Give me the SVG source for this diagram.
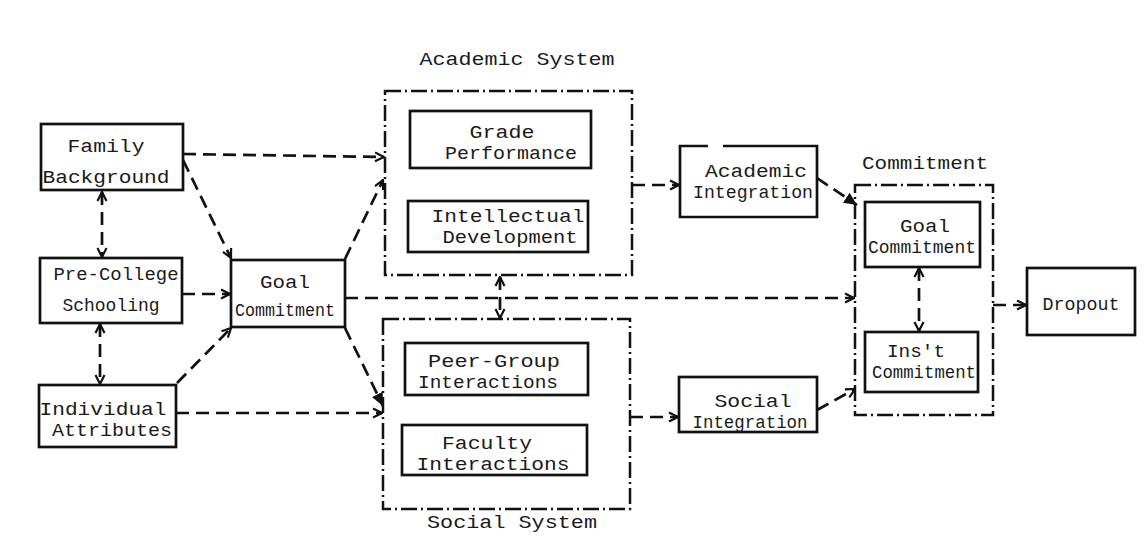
<svg xmlns="http://www.w3.org/2000/svg" width="1145" height="545" viewBox="0 0 1145 545">
<style>
text{font-family:"Liberation Mono","DejaVu Sans Mono",monospace;font-size:18px;fill:#1a1a1a;text-anchor:middle}
.box{fill:none;stroke:#111;stroke-width:2.7}
.sys{fill:none;stroke:#111;stroke-width:2.5;stroke-dasharray:16 4 2 4}
.c{fill:none;stroke:#111;stroke-width:2.7;stroke-dasharray:13 7}
.o{marker-end:url(#open)}
.f{marker-end:url(#fill)}
.d{marker-start:url(#open);marker-end:url(#open)}
</style>
<defs>
<marker id="open" viewBox="0 0 12 12" refX="11" refY="6" markerWidth="12" markerHeight="12" markerUnits="userSpaceOnUse" orient="auto-start-reverse">
<path d="M2,1.5 L11,6 L2,10.5" fill="none" stroke="#111" stroke-width="2.2"/>
</marker>
<marker id="fill" viewBox="0 0 14 14" refX="13" refY="7" markerWidth="14" markerHeight="14" markerUnits="userSpaceOnUse" orient="auto">
<path d="M0,1 L13,7 L0,13 Z" fill="#111"/>
</marker>
</defs>
<rect width="1145" height="545" fill="#fff"/>

<g id="connectors">
<line class="c o" x1="183" y1="154" x2="384" y2="157"/>
<line class="c o" x1="183" y1="160" x2="231" y2="258"/>
<line class="c o" x1="345" y1="259" x2="383" y2="180"/>
<line class="c o" x1="182" y1="294" x2="230" y2="294"/>
<line class="c d" x1="102" y1="192" x2="102" y2="257"/>
<line class="c d" x1="100" y1="324" x2="100" y2="384"/>
<line class="c o" x1="177" y1="383" x2="231" y2="328"/>
<line class="c o" x1="176" y1="413" x2="382" y2="413"/>
<line class="c f" x1="345" y1="328" x2="383" y2="406"/>
<line class="c o" x1="345" y1="298" x2="854" y2="298"/>
<line class="c d" x1="500" y1="277" x2="500" y2="318"/>
<line class="c o" x1="632" y1="185" x2="679" y2="185"/>
<line class="c o" x1="630" y1="417" x2="678" y2="417"/>
<line class="c f" x1="817" y1="178" x2="857" y2="205"/>
<line class="c o" x1="817" y1="410" x2="855" y2="389"/>
<line class="c d" x1="919" y1="268" x2="919" y2="331"/>
<line class="c o" x1="993" y1="305" x2="1026" y2="305"/>
</g>

<g id="academic-system">
<rect class="sys" x="385" y="91" width="247" height="184"/>
<text x="517" y="65" textLength="195" lengthAdjust="spacingAndGlyphs">Academic System</text>
</g>
<g id="social-system">
<rect class="sys" x="383" y="319" width="247" height="190"/>
<text x="512" y="528" textLength="170" lengthAdjust="spacingAndGlyphs">Social System</text>
</g>
<g id="commitment-system">
<rect class="sys" x="855" y="185" width="138" height="230"/>
<text x="925" y="169" textLength="126" lengthAdjust="spacingAndGlyphs">Commitment</text>
</g>

<g id="family-background">
<rect class="box" x="41" y="124" width="142" height="66"/>
<text x="106" y="152" textLength="77" lengthAdjust="spacingAndGlyphs">Family</text>
<text x="106" y="183" textLength="127" lengthAdjust="spacingAndGlyphs">Background</text>
</g>
<g id="pre-college-schooling">
<rect class="box" x="40" y="258" width="142" height="65"/>
<text x="116" y="280" textLength="125" lengthAdjust="spacingAndGlyphs">Pre-College</text>
<text x="111" y="311" textLength="97" lengthAdjust="spacingAndGlyphs">Schooling</text>
</g>
<g id="individual-attributes">
<rect class="box" x="39" y="385" width="137" height="62"/>
<text x="103" y="415" textLength="127" lengthAdjust="spacingAndGlyphs">Individual</text>
<text x="112" y="436" textLength="120" lengthAdjust="spacingAndGlyphs">Attributes</text>
</g>
<g id="goal-commitment-1">
<rect class="box" x="231" y="260" width="114" height="67"/>
<text x="285" y="288" textLength="50" lengthAdjust="spacingAndGlyphs">Goal</text>
<text x="285" y="316" textLength="100" lengthAdjust="spacingAndGlyphs">Commitment</text>
</g>
<g id="grade-performance">
<rect class="box" x="410" y="111" width="181" height="57"/>
<text x="502" y="138" textLength="65" lengthAdjust="spacingAndGlyphs">Grade</text>
<text x="511" y="159" textLength="132" lengthAdjust="spacingAndGlyphs">Performance</text>
</g>
<g id="intellectual-development">
<rect class="box" x="408" y="201" width="180" height="51"/>
<text x="508" y="222" textLength="153" lengthAdjust="spacingAndGlyphs">Intellectual</text>
<text x="510" y="243" textLength="135" lengthAdjust="spacingAndGlyphs">Development</text>
</g>
<g id="peer-group-interactions">
<rect class="box" x="405" y="343" width="183" height="52"/>
<text x="494" y="367" textLength="132" lengthAdjust="spacingAndGlyphs">Peer-Group</text>
<text x="488" y="388" textLength="140" lengthAdjust="spacingAndGlyphs">Interactions</text>
</g>
<g id="faculty-interactions">
<rect class="box" x="402" y="425" width="185" height="50"/>
<text x="487" y="449" textLength="90" lengthAdjust="spacingAndGlyphs">Faculty</text>
<text x="493" y="470" textLength="153" lengthAdjust="spacingAndGlyphs">Interactions</text>
</g>
<g id="academic-integration">
<path class="box" d="M708,146 L680,146 L680,217 L817,217 L817,146 L723,146"/>
<text x="756" y="177" textLength="102" lengthAdjust="spacingAndGlyphs">Academic</text>
<text x="753" y="198" textLength="120" lengthAdjust="spacingAndGlyphs">Integration</text>
</g>
<g id="social-integration">
<rect class="box" x="679" y="377" width="138" height="55"/>
<text x="753" y="407" textLength="77" lengthAdjust="spacingAndGlyphs">Social</text>
<text x="750" y="428" textLength="115" lengthAdjust="spacingAndGlyphs">Integration</text>
</g>
<g id="goal-commitment-2">
<rect class="box" x="865" y="202" width="115" height="65"/>
<text x="925" y="232" textLength="50" lengthAdjust="spacingAndGlyphs">Goal</text>
<text x="922" y="253" textLength="108" lengthAdjust="spacingAndGlyphs">Commitment</text>
</g>
<g id="inst-commitment">
<rect class="box" x="865" y="332" width="113" height="60"/>
<text x="916" y="357" textLength="58" lengthAdjust="spacingAndGlyphs">Ins't</text>
<text x="924" y="378" textLength="104" lengthAdjust="spacingAndGlyphs">Commitment</text>
</g>
<g id="dropout">
<rect class="box" x="1027" y="268" width="108" height="67"/>
<text x="1081" y="310" textLength="77" lengthAdjust="spacingAndGlyphs">Dropout</text>
</g>
</svg>
